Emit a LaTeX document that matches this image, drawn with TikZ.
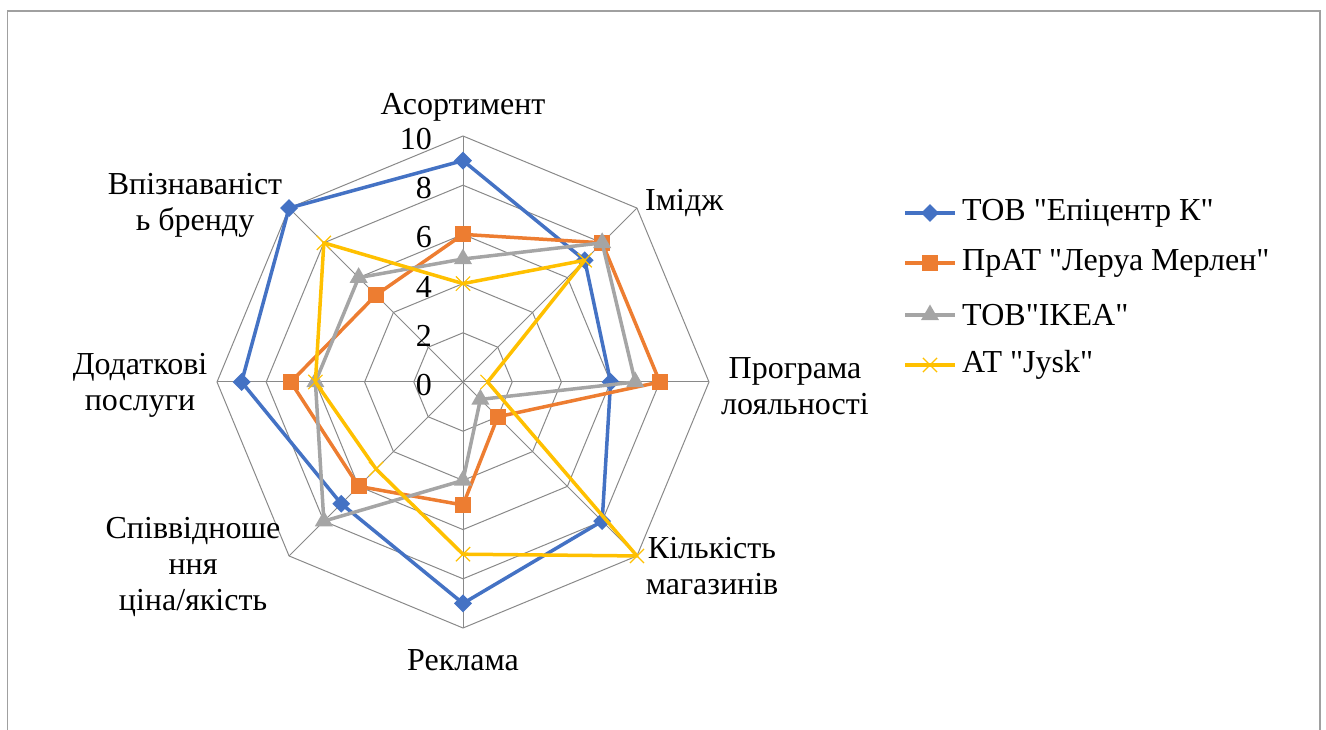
\documentclass[tikz,border=0pt]{standalone}
\usepackage{fontspec}
\setmainfont{Liberation Serif}[Ligatures=TeXOff]
\usetikzlibrary{shapes.geometric,shapes.misc}
\definecolor{sblue}{HTML}{4472C4}
\definecolor{sorange}{HTML}{ED7D31}
\definecolor{sgray}{HTML}{A5A5A5}
\definecolor{syellow}{HTML}{FFC000}
\definecolor{gridc}{HTML}{898989}
\definecolor{framec}{HTML}{A0A0A0}
\begin{document}
\begin{tikzpicture}[x=1pt,y=1pt,
  lbl/.style={font=\fontsize{32}{36}\selectfont, inner sep=0pt, align=center},
  tick/.style={font=\fontsize{32}{36}\selectfont, inner sep=0pt, anchor=east},
  gridline/.style={draw=gridc, line width=1pt},
  series/.style={line width=3.5pt, line join=round},
  mdia/.style={diamond, fill=sblue, inner sep=0pt, minimum size=18pt},
  msq/.style={rectangle, fill=sorange, inner sep=0pt, minimum size=16pt},
  mtri/.style={regular polygon, regular polygon sides=3, fill=sgray, inner sep=0pt, minimum size=21pt},
  mcross/.style={cross out, draw=syellow, line width=1.2pt, inner sep=0pt, minimum size=13pt},
]
\useasboundingbox (0,0) rectangle (1326,729);
\draw[framec, line width=1.5pt] (7.5,-10) -- (7.5,718) -- (1320,718) -- (1320,-10);
\begin{scope}[shift={(463,347)}, x=24.6pt, y=24.6pt]
  \coordinate (ctr) at (0,0);
  \foreach \r in {2,4,...,10}
    \draw[gridline] (90:\r) \foreach \k in {1,...,7}{ -- ({90-45*\k}:\r)} -- cycle;
  \foreach \k in {0,...,7} {
    \coordinate (ax\k) at ({90-45*\k}:10);
    \draw[gridline] (ctr) -- (ax\k);
  }
  % blue
  \foreach \v [count=\i from 0] in {9,7,6,8,9,7,9,10}
    \coordinate (b\i) at ({90-45*\i}:\v);
  \draw[series, sblue] (b0) -- (b1) -- (b2) -- (b3) -- (b4) -- (b5) -- (b6) -- (b7) -- cycle;
  \foreach \i in {0,...,7} \node[mdia] (mb\i) at (b\i) {};
  % orange
  \foreach \v [count=\i from 0] in {6,8,8,2,5,6,7,5}
    \coordinate (o\i) at ({90-45*\i}:\v);
  \draw[series, sorange] (o0) -- (o1) -- (o2) -- (o3) -- (o4) -- (o5) -- (o6) -- (o7) -- cycle;
  \foreach \i in {0,...,7} \node[msq] (mo\i) at (o\i) {};
  % gray
  \foreach \v [count=\i from 0] in {5,8,7,1,4,8,6,6}
    \coordinate (g\i) at ({90-45*\i}:\v);
  \draw[series, sgray] (g0) -- (g1) -- (g2) -- (g3) -- (g4) -- (g5) -- (g6) -- (g7) -- cycle;
  \foreach \i in {0,...,7} \node[mtri] (mg\i) at (g\i) {};
  % yellow
  \foreach \v [count=\i from 0] in {4,7,1,10,7,5,6,8}
    \coordinate (y\i) at ({90-45*\i}:\v);
  \draw[series, syellow] (y0) -- (y1) -- (y2) -- (y3) -- (y4) -- (y5) -- (y6) -- (y7) -- cycle;
  \foreach \i in {0,...,7} \node[mcross] (my\i) at (y\i) {};
\end{scope}
% tick labels
\foreach \v in {0,2,4,6,8,10}
  \node[tick] (tk\v) at (432, {344+24.6*\v}) {\v};
% category labels
\node[lbl] (c0) at (463,622) {Асортимент};
\node[lbl, anchor=west] (c1) at (645,526) {Імідж};
\node[lbl] (c2) at (795,343) {Програма\\лояльності};
\node[lbl] (c3) at (712,163) {Кількість\\магазинів};
\node[lbl] (c4) at (463,69) {Реклама};
\node[lbl] (c5) at (193,162) {Співвідноше\\ння\\ціна/якість};
\node[lbl] (c6) at (140,344) {Додаткові\\послуги};
\node[lbl] (c7) at (195,524) {Впізнаваніст\\ь бренду};
% legend
\coordinate (l1a) at (905,516); \coordinate (l1b) at (955,516);
\draw[series, sblue] (l1a) -- (l1b); \node[mdia] (lm1) at (930,516) {};
\node[lbl, anchor=west] (lt1) at (962,516) {ТОВ "Епіцентр К"};
\coordinate (l2a) at (905,466); \coordinate (l2b) at (955,466);
\draw[series, sorange] (l2a) -- (l2b); \node[msq] (lm2) at (930,466) {};
\node[lbl, anchor=west] (lt2) at (962,466) {ПрАТ "Леруа Мерлен"};
\coordinate (l3a) at (905,414); \coordinate (l3b) at (955,414);
\draw[series, sgray] (l3a) -- (l3b); \node[mtri] (lm3) at (930,414) {};
\node[lbl, anchor=west] (lt3) at (962,414) {ТОВ"IKEA"};
\coordinate (l4a) at (905,364); \coordinate (l4b) at (955,364);
\draw[series, syellow] (l4a) -- (l4b); \node[mcross] (lm4) at (930,364) {};
\node[lbl, anchor=west] (lt4) at (962,364) {АТ "Jysk"};
\end{tikzpicture}
\end{document}
